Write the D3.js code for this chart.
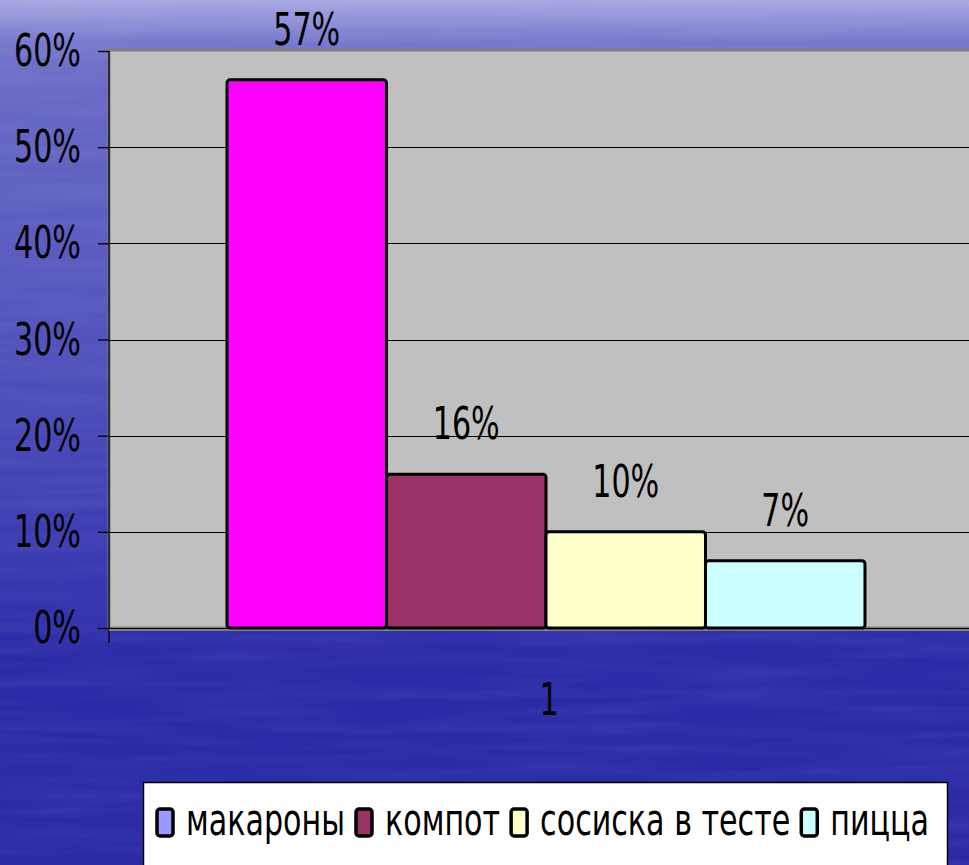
<!DOCTYPE html>
<html>
<head>
<meta charset="utf-8">
<script src="https://cdn.jsdelivr.net/npm/d3@7"></script>
<style>
  body { margin: 0; padding: 0; overflow: hidden; }
  svg { display: block; }
  text { font-family: "DejaVu Sans", sans-serif; fill: #000; }
</style>
</head>
<body>
<svg id="svg" width="969" height="865"></svg>
<script>
// data
const categories = ["1"];
const seriesNames = ["макароны", "компот", "сосиска в тесте", "пицца"];
const seriesValues = [0.57, 0.16, 0.10, 0.07];
const barColors = ["#ff00ff", "#993366", "#ffffcc", "#ccffff"];
const legendColors = ["#9999ff", "#993366", "#ffffcc", "#ccffff"];
const yTicks = [0, 0.1, 0.2, 0.3, 0.4, 0.5, 0.6];

const W = 969, H = 865;
const fontSize = 45, squeeze = 0.67; // text in the picture is narrow

const svg = d3.select("svg");

// blue slide background
const defs = svg.append("defs");
const bg = defs.append("linearGradient").attr("id", "bg")
  .attr("x1", 0).attr("y1", 0).attr("x2", 0).attr("y2", 1);
[[0, "#a8a8e2"], [0.05, "#7676cc"], [0.12, "#6767c5"], [0.35, "#5656be"],
 [0.6, "#3f3fb4"], [0.76, "#2b2ba8"], [1, "#2a2aa6"]]
  .forEach(s => bg.append("stop").attr("offset", s[0]).attr("stop-color", s[1]));
// faint horizontal streaks like the water texture
const f = defs.append("filter").attr("id", "streaks");
f.append("feTurbulence").attr("type", "fractalNoise").attr("baseFrequency", "0.006 0.09")
  .attr("numOctaves", 2).attr("seed", 3);
f.append("feColorMatrix").attr("type", "matrix")
  .attr("values", "0 0 0 0 1  0 0 0 0 1  0 0 0 0 1  0 0 0 0.35 -0.12");
svg.append("rect").attr("width", W).attr("height", H).attr("fill", "url(#bg)");
svg.append("rect").attr("width", W).attr("height", H).attr("filter", "url(#streaks)").attr("opacity", 0.3);

// scales
const plot = { left: 109, right: 983, top: 51, bottom: 628 };
const x0 = d3.scaleBand().domain(categories).range([plot.left, plot.right])
  .paddingInner(0).paddingOuter(0.185);
const x1 = d3.scaleBand().domain(seriesNames).range([0, x0.bandwidth()]);
const y = d3.scaleLinear().domain([0, 0.6]).range([plot.bottom, plot.top]);
const fmt = d3.format(".0%");

function label(g, tx, ty, str, anchor) {
  return g.append("text")
    .attr("transform", "translate(" + tx + "," + ty + ") scale(" + squeeze + ",1)")
    .attr("text-anchor", anchor || "middle")
    .attr("font-size", fontSize)
    .text(str);
}

// plot area
svg.append("rect")
  .attr("x", plot.left).attr("y", plot.top - 1)
  .attr("width", plot.right - plot.left).attr("height", plot.bottom - plot.top + 1)
  .attr("fill", "#c0c0c0").attr("stroke", "#808080").attr("stroke-width", 3);

// gridlines
svg.append("g").selectAll("line").data(yTicks.slice(1, -1)).enter().append("line")
  .attr("x1", plot.left).attr("x2", plot.right)
  .attr("y1", d => Math.round(y(d)) + 0.5).attr("y2", d => Math.round(y(d)) + 0.5)
  .attr("stroke", "#000").attr("stroke-width", 1.2);

// y axis
const yAxis = svg.append("g").attr("transform", "translate(" + plot.left + ",0)")
  .call(d3.axisLeft(y).tickValues(yTicks).tickSize(11).tickFormat(""));
yAxis.selectAll("path, line").attr("stroke", "#000").attr("stroke-width", 1.3);
yAxis.select(".domain").attr("d", "M0," + plot.top + "V" + (plot.bottom + 15));

yTicks.forEach(t => label(svg, 81, y(t) + 15, fmt(t), "end"));

// bottom axis line
svg.append("line").attr("x1", plot.left - 11).attr("x2", plot.right)
  .attr("y1", plot.bottom + 0.5).attr("y2", plot.bottom + 0.5)
  .attr("stroke", "#000").attr("stroke-width", 1.2);
svg.append("line").attr("x1", plot.left).attr("x2", plot.right)
  .attr("y1", plot.bottom + 2).attr("y2", plot.bottom + 2)
  .attr("stroke", "#808080").attr("stroke-width", 2);

// bars
const groups = svg.append("g").selectAll("g").data(categories).enter().append("g")
  .attr("transform", d => "translate(" + x0(d) + ",0)");

groups.selectAll("rect").data(seriesNames.map((n, i) => ({ name: n, value: seriesValues[i], i: i })))
  .enter().append("rect")
  .attr("x", d => x1(d.name))
  .attr("y", d => y(d.value))
  .attr("width", x1.bandwidth())
  .attr("height", d => plot.bottom - y(d.value))
  .attr("rx", 3)
  .attr("fill", d => barColors[d.i])
  .attr("stroke", "#000").attr("stroke-width", 3);

// value labels
seriesNames.forEach((n, i) => {
  label(svg, x0("1") + x1(n) + x1.bandwidth() / 2, y(seriesValues[i]) - 35, fmt(seriesValues[i]));
});

// category label
categories.forEach(c => label(svg, x0(c) + x0.bandwidth() / 2 + 3, 715, c));

// legend
const legend = svg.append("g");
legend.append("rect").attr("x", 143.5).attr("y", 782.5).attr("width", 804).attr("height", 120)
  .attr("fill", "#fff").attr("stroke", "#000").attr("stroke-width", 1.5);

let lx = 157;
seriesNames.forEach((n, i) => {
  legend.append("rect").attr("x", lx).attr("y", 809).attr("width", 16).attr("height", 27)
    .attr("rx", 3).attr("fill", legendColors[i]).attr("stroke", "#000").attr("stroke-width", 3.5);
  const t = label(legend, lx + 29, 835, n, "start");
  const w = t.node().getComputedTextLength() * squeeze;
  lx += 29 + w + 11;
});
</script>
</body>
</html>
